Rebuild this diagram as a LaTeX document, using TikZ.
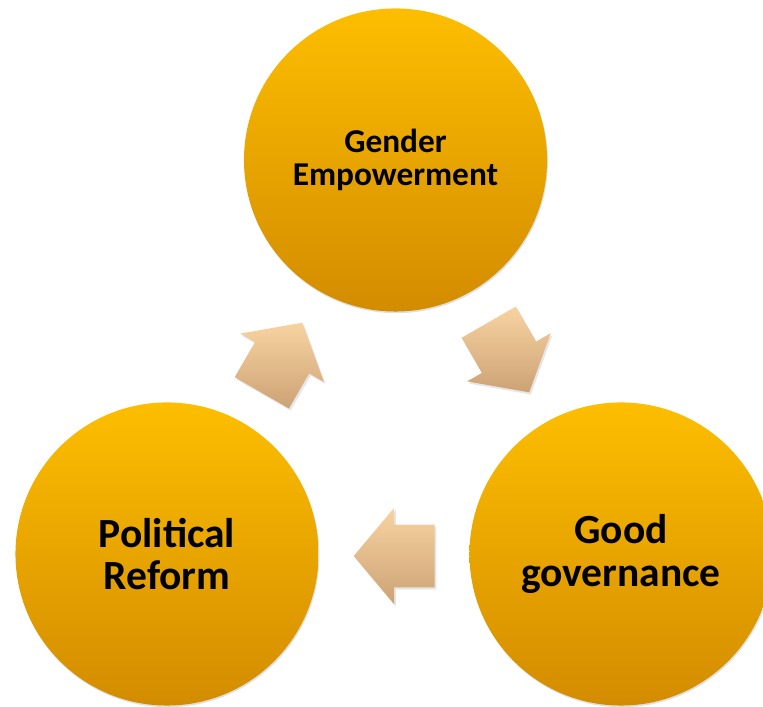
\documentclass[tikz,border=0pt]{standalone}
\usepackage{fontspec}
\setmainfont{Carlito}
\usepackage{tikz}
\usetikzlibrary{shapes.arrows, shadows, calc}
\definecolor{goldtop}{RGB}{253,190,0}
\definecolor{goldbot}{RGB}{211,140,0}
\definecolor{peachtop}{RGB}{248,211,162}
\definecolor{peachbot}{RGB}{204,162,116}

\begin{document}
\begin{tikzpicture}[
    x=0.025cm, y=0.025cm,
    stage/.style={circle, minimum size=7.575cm, inner sep=0pt, top color=goldtop, bottom color=goldbot,
        drop shadow={shadow xshift=0.6pt, shadow yshift=-1.2pt, opacity=0.25}, align=center, font=\bfseries},
    flow/.style={single arrow, minimum height=2.025cm, minimum width=0pt, inner xsep=0pt, inner ysep=0.775cm,
        single arrow head extend=0.425cm, single arrow tip angle=100, rotate=#1, anchor=tail,
        top color=peachtop, bottom color=peachbot,
        drop shadow={shadow xshift=1.2pt, shadow yshift=-1.6pt, opacity=0.2}}
]
    \path[use as bounding box, clip] (0,0) rectangle (763,707);

    % Centre of the cycle
    \coordinate (hub) at (394.5,284);

    % Stages
    \node[stage, font=\bfseries\fontsize{23.7}{24}\selectfont] (gender) at (395.5,547) {Gender\\Empowerment};
    \node[stage, font=\bfseries\fontsize{29.5}{30}\selectfont] (reform) at (167,153) {Political\\Reform};
    \node[stage, font=\bfseries\fontsize{29.5}{30}\selectfont] (govern) at (621,153) {Good\\governance};

    % Arrows between stages
    \node[flow=-60] (ga) at ($(hub)+(30:132)+(-60:-40.5)$) {};
    \node[flow=180] (gb) at ($(hub)+(270:133)+(180:-40.5)$) {};
    \node[flow=60] (gc) at ($(hub)+(150:130)+(60:-40.5)$) {};
\end{tikzpicture}
\end{document}
